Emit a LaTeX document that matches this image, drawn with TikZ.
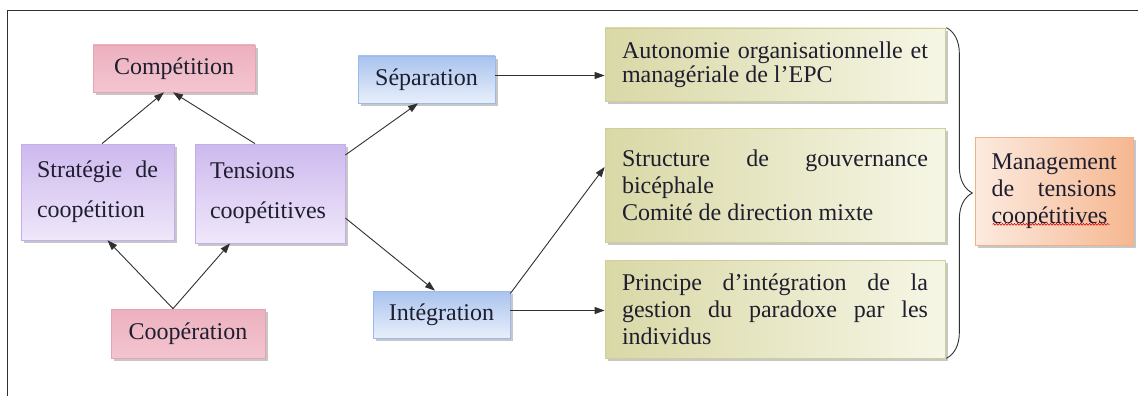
\documentclass[tikz,border=0pt]{standalone}
\usepackage{fontspec}
\setmainfont{Liberation Serif}
\newfontfamily\tnr{Liberation Serif}
\usetikzlibrary{arrows.meta,shadows,decorations.pathreplacing,decorations.pathmorphing,calc}
\hyphenpenalty=10000
\exhyphenpenalty=10000
\definecolor{txt}{HTML}{1E1E2E}
\definecolor{lineC}{HTML}{303030}
\definecolor{pinkA}{HTML}{EDB0BF}
\definecolor{pinkM}{HTML}{FAE6EB}
\definecolor{pinkB}{HTML}{F3C5D0}
\definecolor{pinkD}{HTML}{E6A3B3}
\definecolor{purA}{HTML}{CDB9EE}
\definecolor{purB}{HTML}{EFE7FA}
\definecolor{purD}{HTML}{C3ADEA}
\definecolor{bluA}{HTML}{A9C3EE}
\definecolor{bluB}{HTML}{E8EFFB}
\definecolor{bluD}{HTML}{9DB9EA}
\definecolor{grnA}{HTML}{D9D8A6}
\definecolor{grnB}{HTML}{F6F6E6}
\definecolor{grnD}{HTML}{D0CF9C}
\definecolor{orgA}{HTML}{FCEBE0}
\definecolor{orgB}{HTML}{F6B790}
\definecolor{orgD}{HTML}{F2B08A}
\begin{document}
\hyphenpenalty=10000
\exhyphenpenalty=10000
\begin{tikzpicture}[x=1pt,y=1pt,
  base/.style={draw, line width=0.7pt, text=txt, inner ysep=0pt,
    font=\tnr\fontsize{24pt}{27pt}\selectfont,
    drop shadow={shadow xshift=3pt, shadow yshift=-3pt, fill=black, opacity=0.22}},
  pinkbox/.style={base, draw=pinkD, top color=pinkA, middle color=pinkM, bottom color=pinkB},
  purbox/.style={base, draw=purD, top color=purA, bottom color=purB,
    font=\tnr\fontsize{24pt}{40pt}\selectfont},
  blubox/.style={base, draw=bluD, top color=bluA, bottom color=bluB},
  grnbox/.style={base, draw=grnD, left color=grnA, right color=grnB,
    text width=306pt, inner xsep=17pt, minimum width=340pt, align=justify},
  orgbox/.style={base, draw=orgD, left color=orgA, right color=orgB},
  conn/.style={line width=0.9pt, draw=lineC, -{Triangle[length=10pt,width=7pt]}}
]
\useasboundingbox (0,0) rectangle (1138,-396);
\draw[line width=1pt, draw=lineC] (7,-400) -- (7,-11) -- (1145,-11);

\node[pinkbox, minimum width=162pt, minimum height=47pt] (comp) at (174,-68.5) {Compétition};
\node[purbox, text width=121pt, inner xsep=16pt, minimum height=96pt, align=justify] (strat) at (97.5,-192) {Stratégie de coopétition};
\node[purbox, text width=120pt, inner xsep=15pt, minimum height=99pt, align=left] (tens) at (270,-193.5) {Tensions\\coopétitives};
\node[pinkbox, minimum width=154pt, minimum height=49pt] (coop) at (188,-333.5) {Coopération};
\node[blubox, minimum width=137pt, minimum height=47pt] (sep) at (426.5,-79.5) {Séparation};
\node[blubox, minimum width=137pt, minimum height=47pt] (integ) at (441.5,-314.5) {Intégration};

\node[grnbox, minimum height=73pt, font=\tnr\fontsize{24pt}{24pt}\selectfont] (g1) at (775,-64.5) {Autonomie organisationnelle et managériale de l’EPC};
\node[grnbox, minimum height=114pt] (g2) at (775,-185) {Structure de gouvernance bicéphale\par Comité de direction mixte};
\node[grnbox, minimum height=98pt] (g3) at (775,-309) {Principe d’intégration de la gestion du paradoxe par les individus};

\node[orgbox, text width=125pt, inner xsep=16.5pt, minimum height=108pt, align=justify] (mgmt) at (1054,-191) {Management de tensions coopétitives};
\draw[red!85!black, line width=0.6pt, decorate, decoration={snake, amplitude=0.9pt, segment length=3pt}]
  ($(mgmt.south west)+(18,21)$) -- ($(mgmt.south west)+(135,21)$);

\draw[line width=0.9pt, draw=lineC, decorate, decoration={brace, amplitude=26pt}]
  ($(g1.north east)+(1,0)$) -- ($(g3.south east)+(1,0)$);

\draw[conn] ([xshift=4.5pt]strat.north) -- ([xshift=-10pt]comp.south);
\draw[conn] ([xshift=-15pt]tens.north) -- ([xshift=-1pt]comp.south);
\draw[conn] ([xshift=-15pt]coop.north) -- ([xshift=10pt]strat.south);
\draw[conn] ([xshift=-15pt]coop.north) -- ([xshift=-40pt]tens.south);
\draw[conn] ([yshift=38.5pt]tens.east) -- ([xshift=-8.5pt]sep.south);
\draw[conn] ([yshift=-24.5pt]tens.east) -- ([xshift=-6.5pt]integ.north);
\draw[conn] ([yshift=4pt]sep.east) -- ([yshift=4pt]sep.east -| g1.west);
\draw[conn] ([yshift=21pt]integ.east) -- ([yshift=18pt]g2.west);
\draw[conn] ([yshift=4pt]integ.east) -- ([yshift=4pt]integ.east -| g3.west);
\end{tikzpicture}
\end{document}
